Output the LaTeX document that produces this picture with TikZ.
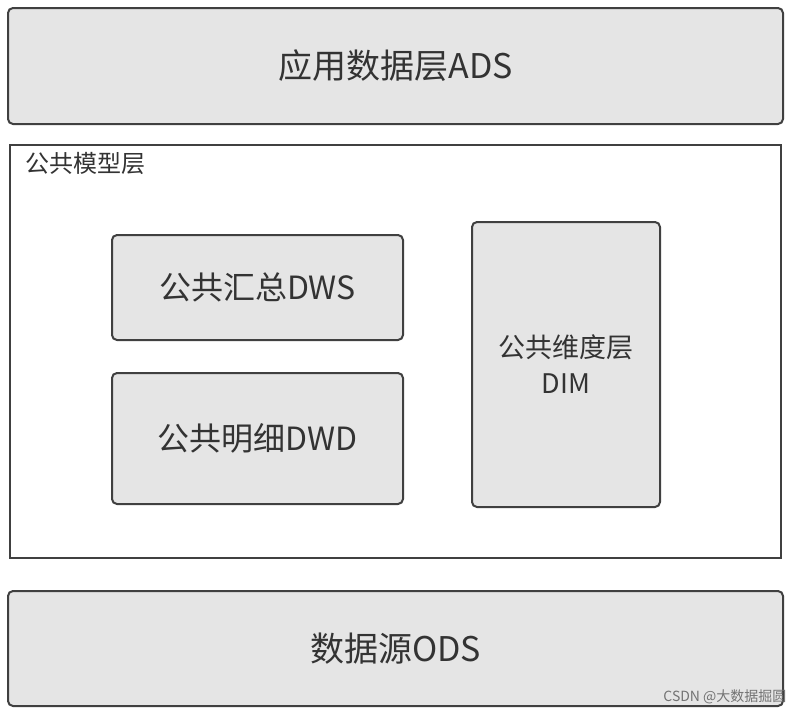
\documentclass[tikz,border=0pt]{standalone}
\usepackage{fontspec}
\setmainfont{Noto Sans CJK SC}
\begin{document}
\begin{tikzpicture}[x=1pt,y=-1pt,
  layer/.style={draw=black!75,line width=2pt,rounded corners=5pt,fill=black!10,text=black!80},
  big/.style={font=\fontsize{34}{40}\selectfont},
  mid/.style={font=\fontsize{32}{38}\selectfont},
  small/.style={font=\fontsize{27}{36}\selectfont,align=center}]
\useasboundingbox (0,0) rectangle (795,718);
\node[layer,big,minimum width=775,minimum height=116] (ads) at (395.5,66) {应用数据层ADS};
\node[draw=black!75,line width=2pt,fill=white,minimum width=771,minimum height=413] (model) at (395.5,351.5) {};
\node[anchor=west,text=black!80,font=\fontsize{24}{28}\selectfont] (lbl) at (22,163) {公共模型层};
\node[layer,mid,minimum width=291,minimum height=105] (dws) at (257.5,287.5) {公共汇总DWS};
\node[layer,mid,minimum width=291,minimum height=131] (dwd) at (257.5,438.5) {公共明细DWD};
\node[layer,small,minimum width=188,minimum height=285] (dim) at (566,364.5) {公共维度层\\DIM};
\node[layer,big,minimum width=775,minimum height=115] (ods) at (395.5,648.5) {数据源ODS};
\node[anchor=east,text=black!55,font=\fontsize{14}{16}\selectfont] (wm) at (790,697) {CSDN @大数据掘圆};
\end{tikzpicture}
\end{document}
